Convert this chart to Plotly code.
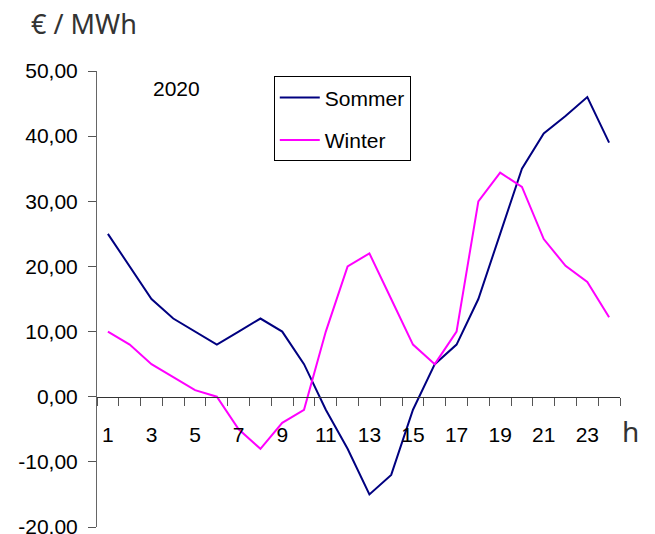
import plotly.graph_objects as go

hours = list(range(1, 25))
sommer = [25, 20, 15, 12, 10, 8, 10, 12, 10, 5, -2, -8, -15, -12, -2, 5, 8, 15, 25, 35, 40.4, 43.1, 46, 39]
winter = [10, 8, 5, 3, 1, 0, -5, -8, -4, -2, 10, 20, 22, 15, 8, 5, 10, 30, 34.4, 32.2, 24.2, 20.1, 17.6, 12.2]
x_labels = [h for h in hours if h % 2 == 1]
y_ticks = [-20, -10, 0, 10, 20, 30, 40, 50]
y_ticktext = ["-20,00", "-10,00", "0,00", "10,00", "20,00", "30,00", "40,00", "50,00"]

NARROW = "Liberation Sans Narrow, Arial Narrow, Liberation Sans, Arial, sans-serif"

fig = go.Figure()
fig.add_trace(go.Scatter(x=hours, y=sommer, mode="lines", name="Sommer",
                         line=dict(color="#000080", width=2), legendgroup="a"))
fig.add_trace(go.Scatter(x=hours, y=winter, mode="lines", name="Winter",
                         line=dict(color="#FF00FF", width=2), legendgroup="b"))

fig.update_layout(
    width=647, height=526,
    margin=dict(l=89, r=35, t=63, b=7, autoexpand=False),
    paper_bgcolor="white", plot_bgcolor="white",
    font=dict(family=NARROW, size=21, color="#000"),
    showlegend=True,
    legend=dict(x=0.338, y=0.988, xanchor="left", yanchor="top",
                bordercolor="#000", borderwidth=1, bgcolor="white",
                font=dict(family=NARROW, size=21, color="#000"),
                itemwidth=40, tracegroupgap=12),
    xaxis=dict(range=[0.5, 24.5], anchor="free", position=20/70, automargin=False,
               tickmode="array", tickvals=x_labels, ticktext=[str(v) for v in x_labels],
               ticks="", ticklabelstandoff=19,
               showline=True, linecolor="#333", linewidth=1,
               showgrid=False, zeroline=False,
               minor=dict(tickvals=[h + 0.5 for h in range(0, 25)], ticks="outside",
                          ticklen=8, tickcolor="#555", tickwidth=1, showgrid=False)),
    yaxis=dict(range=[-20, 50], tickmode="array", tickvals=y_ticks, ticktext=y_ticktext,
               automargin=False, ticklabeloverflow="allow",
               ticks="outside", ticklen=8, tickcolor="#555", ticklabelstandoff=6,
               showline=True, linecolor="#666", linewidth=1,
               showgrid=False, zeroline=False),
    annotations=[
        dict(text="2020", xref="paper", yref="paper", x=0.152, y=0.9616,
             xanchor="center", yanchor="middle", showarrow=False,
             font=dict(family=NARROW, size=21, color="#000")),
        dict(text="€ / MWh", xref="paper", yref="paper", x=-0.13, y=1.105,
             xanchor="left", yanchor="middle", showarrow=False,
             font=dict(family="Noto Sans, Open Sans, sans-serif", size=27, color="#333")),
        dict(text="h", xref="paper", yref="paper", x=1.021, y=0.21,
             xanchor="center", yanchor="middle", showarrow=False,
             font=dict(family="Noto Sans, Open Sans, sans-serif", size=28, color="#333")),
    ],
)

fig.write_html("out.html")
